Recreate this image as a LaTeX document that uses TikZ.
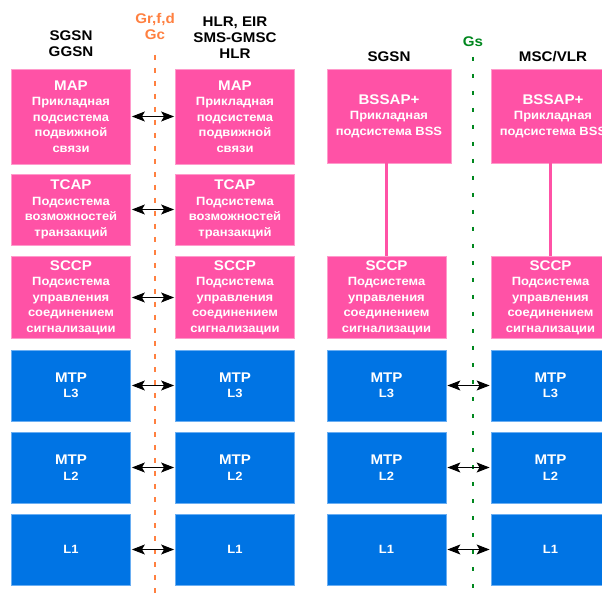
\documentclass[tikz,border=0pt]{standalone}
\usepackage{fontspec}
\setmainfont[FakeStretch=1.08]{Liberation Sans}
\usetikzlibrary{arrows.meta}
\definecolor{gpink}{HTML}{FF52A6}
\definecolor{gpinkedge}{HTML}{FF9ACB}
\definecolor{gblue}{HTML}{0074E4}
\definecolor{gblueedge}{HTML}{6AAEF2}
\definecolor{gorange}{HTML}{FF8040}
\definecolor{ggreen}{HTML}{00871E}
\newcommand{\lyrttl}[1]{{\fontsize{14}{17}\selectfont #1}}

\begin{document}
\begin{tikzpicture}[x=1pt,y=-1pt,
  pinkbox/.style={rectangle, fill=gpink, draw=gpinkedge, line width=0.8pt, inner sep=0pt,
                  text=white, align=center, font=\bfseries\fontsize{12}{15.5}\selectfont},
  bluebox/.style={rectangle, fill=gblue, draw=gblueedge, line width=0.8pt, inner sep=0pt,
                  text=white, align=center, font=\bfseries\fontsize{12}{15.5}\selectfont,
                  minimum width=119pt, minimum height=71pt},
  hdr/.style={font=\bfseries\fontsize{14}{16}\selectfont, align=center, inner sep=0pt},
  ifline/.style={line width=2.8pt},
  link/.style={{Stealth[length=13pt,width=10pt,inset=3pt]}-{Stealth[length=13pt,width=10pt,inset=3pt]},
               line width=1.1pt, black, shorten <=1pt, shorten >=1pt},
  tie/.style={draw=gpink, line width=2.6pt},
]
\clip (0,0) rectangle (602,593);
\fill[white] (0,0) rectangle (602,593);
% interface lines
\coordinate (gctop) at (155,55);  \coordinate (gcbot) at (155,593);
\coordinate (gstop) at (473,57);  \coordinate (gsbot) at (473,593);
\draw[ifline, gorange, dash pattern=on 5pt off 8pt] (gctop) -- (gcbot);
\draw[ifline, ggreen, dash pattern=on 4pt off 13pt] (gstop) -- (gsbot);
% headers
\node[hdr] (hsgsn1) at (71,44) {SGSN\\GGSN};
\node[hdr] (hhlr)   at (235,38) {HLR, EIR\\SMS-GMSC\\HLR};
\node[hdr, text=gorange] (hgc) at (155,27) {Gr,f,d\\Gc};
\node[hdr] (hsgsn3) at (389,57) {SGSN};
\node[hdr, text=ggreen] (hgs) at (473,42) {Gs};
\node[hdr] (hmsc)   at (553,57) {MSC/VLR};
% SS7 stack, left pair
\foreach \c/\x in {1/71,2/235} {
  \node[pinkbox, minimum width=119pt, minimum height=95pt] (map\c) at (\x,116.5)
    {\lyrttl{MAP}\\Прикладная\\подсистема\\подвижной\\связи};
  \node[pinkbox, minimum width=119pt, minimum height=71pt] (tcap\c) at (\x,209.5)
    {\lyrttl{TCAP}\\Подсистема\\возможностей\\транзакций};
}
% BSSAP+, right pair
\node[pinkbox, minimum width=124pt, minimum height=94pt] (bssap3) at (389,116)
  {\lyrttl{BSSAP+}\\Прикладная\\подсистема BSS};
\node[pinkbox, minimum width=124pt, minimum height=94pt] (bssap4) at (553,116)
  {\lyrttl{BSSAP+}\\Прикладная\\подсистема BSS};
% SCCP and MTP for all four columns
\foreach \c/\x in {1/71,2/235,3/386.5,4/550.5} {
  \node[pinkbox, minimum width=119pt, minimum height=82pt] (sccp\c) at (\x,297.5)
    {\lyrttl{SCCP}\\Подсистема\\управления\\соединением\\сигнализации};
  \node[bluebox] (mtpc\c) at (\x,385.5) {\lyrttl{MTP}\\L3};
  \node[bluebox] (mtpb\c) at (\x,467.5) {\lyrttl{MTP}\\L2};
  \node[bluebox] (lone\c) at (\x,549.5) {L1};
}
% BSSAP+ down to SCCP
\draw[tie] (bssap3.south -| sccp3.north) -- (sccp3.north);
\draw[tie] (bssap4.south -| sccp4.north) -- (sccp4.north);
% peer links
\foreach \r in {map,tcap,sccp}
  \draw[link] (\r1.east) -- (\r2.west);
\foreach \r in {mtpc,mtpb,lone} {
  \draw[link] (\r1.east) -- (\r2.west);
  \draw[link] (\r3.east) -- (\r4.west);
}
\end{tikzpicture}
\end{document}
